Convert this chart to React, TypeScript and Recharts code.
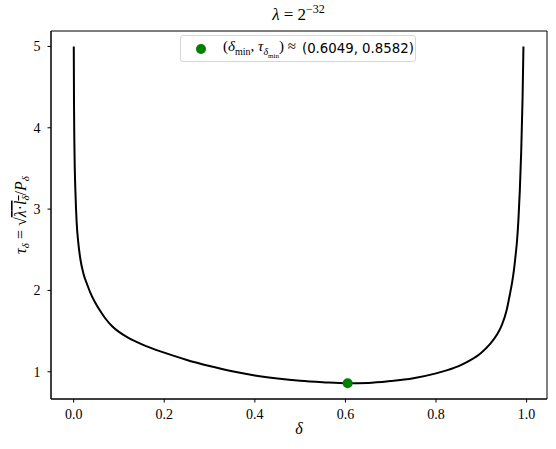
import {
  ComposedChart,
  Line,
  Scatter,
  XAxis,
  YAxis,
  Legend,
  Label,
  ReferenceArea,
} from "recharts";

// curve (delta, tau)
const deltaValues = [
  0.0003, 0.0008, 0.0015, 0.0025, 0.004, 0.0065, 0.01, 0.015, 0.022, 0.03,
  0.041, 0.055, 0.07, 0.085, 0.1, 0.12, 0.14, 0.16, 0.2, 0.25, 0.3, 0.35, 0.4,
  0.45, 0.5, 0.55, 0.6049, 0.65, 0.7, 0.75, 0.8, 0.825, 0.85, 0.875, 0.9,
  0.919, 0.935, 0.945, 0.956, 0.963, 0.968, 0.972, 0.976, 0.979, 0.982, 0.985,
  0.988, 0.991, 0.993,
];
const tauValues = [
  5.0, 4.3, 3.85, 3.5, 3.2, 2.85, 2.6, 2.38, 2.2, 2.07, 1.92, 1.78, 1.655,
  1.56, 1.49, 1.42, 1.365, 1.315, 1.235, 1.145, 1.07, 1.005, 0.955, 0.918,
  0.89, 0.872, 0.8582, 0.862, 0.885, 0.92, 0.98, 1.02, 1.07, 1.14, 1.235, 1.34,
  1.46, 1.57, 1.76, 1.95, 2.1, 2.25, 2.45, 2.62, 2.88, 3.23, 3.7, 4.35, 5.0,
];
const minDelta = 0.6049;
const minTau = 0.8582;
const xTicks = [0, 0.2, 0.4, 0.6, 0.8, 1.0];
const yTicks = [1, 2, 3, 4, 5];
const xDomain = [-0.05, 1.045];
const yDomain = [0.665, 5.19];

const curve = deltaValues.map((d, i) => ({ delta: d, tau: tauValues[i] }));
const minPoint = [{ delta: minDelta, tau: minTau }];

const serif = "'Liberation Serif', 'DejaVu Serif', serif";
const sans = "'DejaVu Sans', sans-serif";

const XLabel = ({ viewBox }: any) => (
  <text
    x={viewBox.x + viewBox.width / 2}
    y={viewBox.y + 35}
    textAnchor="middle"
    fontFamily={serif}
    fontStyle="italic"
    fontSize={16}
  >
    δ
  </text>
);

const YLabel = () => (
  <text
    x={26}
    y={215}
    transform="rotate(-90, 26, 215)"
    textAnchor="middle"
    fontFamily={serif}
    fontSize={16}
  >
    <tspan fontStyle="italic">τ</tspan>
    <tspan fontStyle="italic" fontSize={11} dy={3}>δ</tspan>
    <tspan dy={-3}> = √</tspan>
    <tspan textDecoration="overline">
      <tspan fontStyle="italic">λ</tspan>·<tspan fontStyle="italic">l</tspan>
      <tspan fontStyle="italic" fontSize={11} dy={3}>δ</tspan>
    </tspan>
    <tspan dy={-3}>/</tspan>
    <tspan fontStyle="italic">P</tspan>
    <tspan fontStyle="italic" fontSize={11} dy={3}>δ</tspan>
  </text>
);

const LegendBox = () => (
  <div
    style={{
      display: "flex",
      alignItems: "center",
      boxSizing: "border-box",
      width: 236,
      height: 27,
      border: "1px solid #d6d6d6",
      borderRadius: 3,
      background: "rgba(255,255,255,0.8)",
      paddingLeft: 14,
      whiteSpace: "nowrap",
    }}
  >
    <svg width={12} height={12} style={{ marginRight: 16, flex: "none" }}>
      <circle cx={6} cy={6} r={5} fill="#008000" />
    </svg>
    <span style={{ fontFamily: serif, fontSize: 15 }}>
      (<i>δ</i>
      <sub style={{ fontSize: 10 }}>min</sub>, <i>τ</i>
      <sub style={{ fontSize: 10 }}>
        <i>δ</i>
        <sub style={{ fontSize: 7 }}>min</sub>
      </sub>
      ) ≈
    </span>
    <span style={{ fontFamily: sans, fontSize: 13.3, marginLeft: 6 }}>
      (0.6049, 0.8582)
    </span>
  </div>
);

const MinDot = (props: any) => (
  <circle cx={props.cx} cy={props.cy} r={5} fill="#008000" />
);

export default function App() {
  return (
    <div style={{ position: "absolute", left: 0, top: 0, background: "#fff" }}>
      <div
        style={{
          position: "absolute",
          left: 0,
          width: 597,
          top: 2,
          textAlign: "center",
          fontFamily: serif,
          fontSize: 17,
        }}
      >
        <i>λ</i> = 2<sup style={{ fontSize: 12 }}>−32</sup>
      </div>
      <ComposedChart
        width={556}
        height={449}
        data={curve}
        margin={{ top: 31, right: 9, left: 0, bottom: 0 }}
      >
        <XAxis
          dataKey="delta"
          type="number"
          domain={xDomain}
          ticks={xTicks}
          tickFormatter={(v) => v.toFixed(1)}
          allowDataOverflow
          height={50}
          tickSize={3.5}
          tickMargin={6.5}
          stroke="#000"
          tick={{ fill: "#000", fontFamily: serif, fontSize: 14 }}
        >
          <Label content={XLabel} />
        </XAxis>
        <YAxis
          dataKey="tau"
          type="number"
          domain={yDomain}
          ticks={yTicks}
          allowDataOverflow
          width={51}
          tickSize={3.5}
          tickMargin={7}
          stroke="#000"
          tick={{ fill: "#000", fontFamily: serif, fontSize: 14 }}
        >
          <Label content={YLabel} />
        </YAxis>
        <ReferenceArea
          x1={xDomain[0]}
          x2={xDomain[1]}
          y1={yDomain[0]}
          y2={yDomain[1]}
          fill="none"
          stroke="#000"
          strokeWidth={1}
          ifOverflow="visible"
        />
        <Legend
          content={LegendBox}
          layout="horizontal"
          verticalAlign="middle"
          align="center"
          wrapperStyle={{ top: 35, left: 180, width: "auto" }}
        />
        <Line
          dataKey="tau"
          type="monotone"
          stroke="#000"
          strokeWidth={2}
          dot={false}
          activeDot={false}
          isAnimationActive={false}
          legendType="none"
        />
        <Scatter
          data={minPoint}
          dataKey="tau"
          shape={MinDot}
          isAnimationActive={false}
        />
      </ComposedChart>
    </div>
  );
}
